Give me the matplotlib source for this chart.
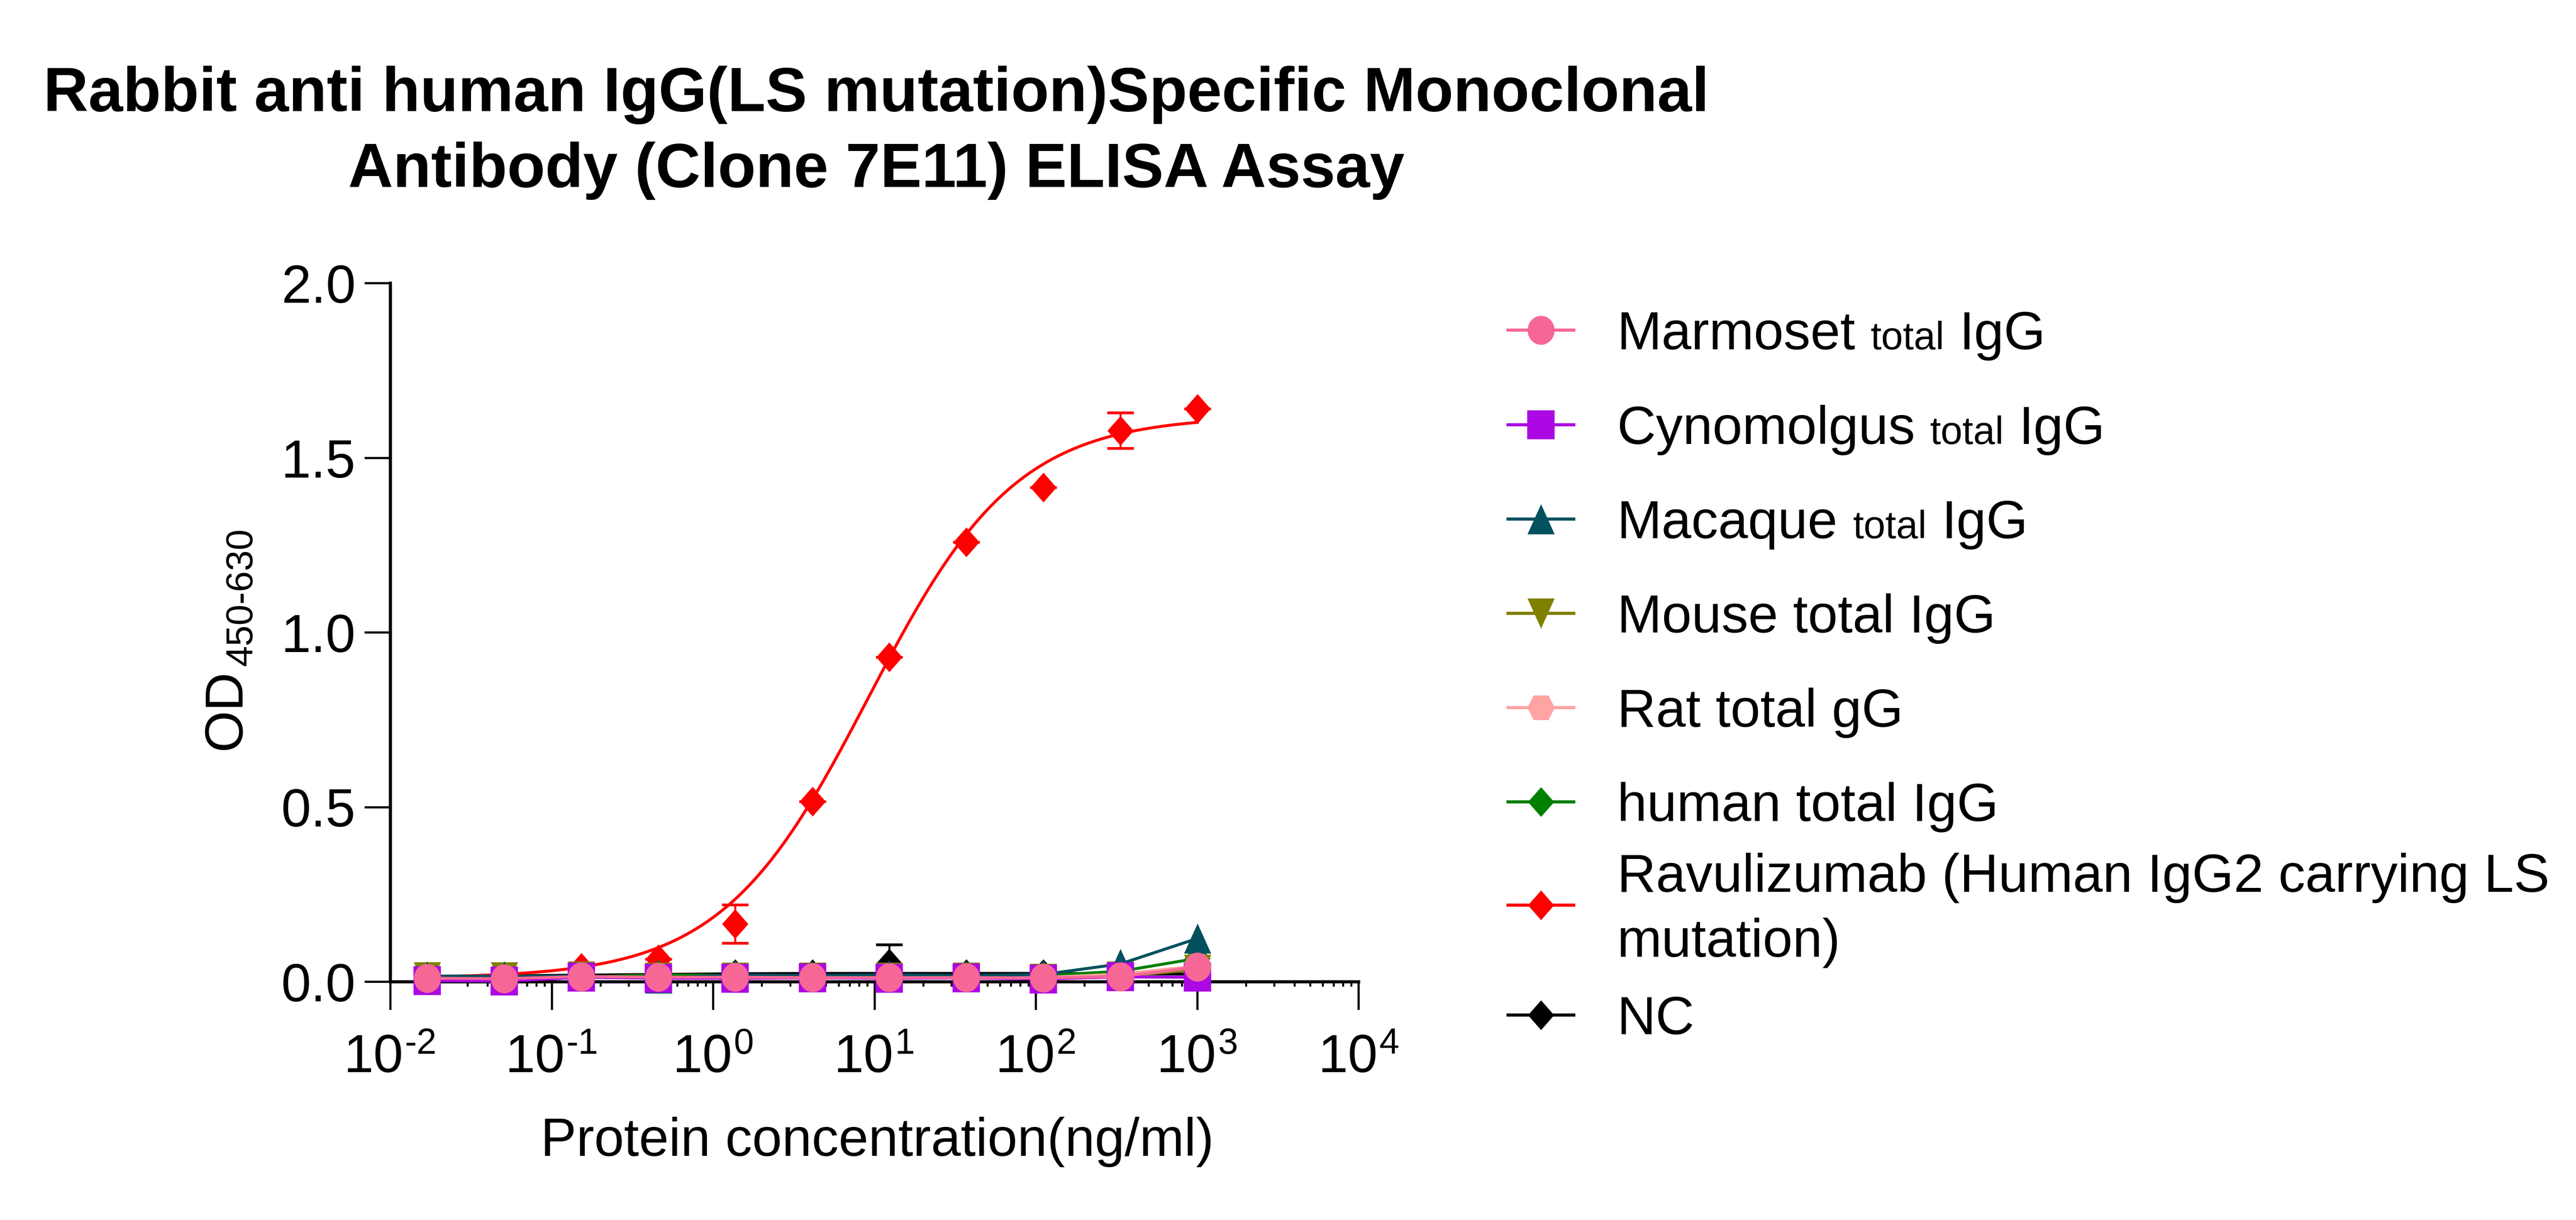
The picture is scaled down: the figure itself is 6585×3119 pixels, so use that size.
import numpy as np
import matplotlib
matplotlib.use("Agg")
import matplotlib.pyplot as plt
from matplotlib.path import Path
from matplotlib.lines import Line2D
from matplotlib.ticker import FixedLocator, FixedFormatter, LogLocator, NullFormatter
from matplotlib.transforms import blended_transform_factory, offset_copy

# ---------------- data ----------------
conc = [0.0169, 0.0508, 0.152, 0.457, 1.37, 4.12, 12.3, 37.0, 111.0, 333.0, 1000.0]

marmoset = [0.010, 0.009, 0.015, 0.013, 0.013, 0.012, 0.012, 0.012, 0.011, 0.015, 0.042]
cynomolgus = [0.003, 0.002, 0.013, 0.010, 0.010, 0.011, 0.010, 0.011, 0.008, 0.014, 0.013]
macaque = [0.016, 0.016, 0.016, 0.010, 0.020, 0.018, 0.020, 0.018, 0.021, 0.051, 0.124]
mouse = [0.013, 0.013, 0.016, 0.012, 0.012, 0.012, 0.012, 0.012, 0.009, 0.016, 0.035]
rat = [0.012, 0.012, 0.014, 0.012, 0.012, 0.012, 0.012, 0.012, 0.012, 0.022, 0.045]
human = [0.016, 0.016, 0.013, 0.020, 0.018, 0.016, 0.018, 0.018, 0.018, 0.030, 0.067]
ravulizumab = [0.012, 0.012, 0.040, 0.065, 0.166, 0.516, 0.930, 1.259, 1.416, 1.578, 1.641]
ravulizumab_sd = [0, 0, 0, 0, 0.055, 0, 0, 0, 0, 0.051, 0]
nc = [0.015, 0.015, 0.016, 0.020, 0.022, 0.022, 0.053, 0.022, 0.022, 0.021, 0.020]
nc_sd = [0, 0, 0, 0, 0, 0, 0.053, 0, 0, 0, 0]
nc_fit = [0.016, 0.017, 0.019, 0.021, 0.023, 0.024, 0.024, 0.024, 0.024, 0.023, 0.022]

# 4PL fit of the Ravulizumab curve (parameters)
fit_bottom, fit_top, fit_ec50, fit_hill = 0.010, 1.620, 9.2, 0.95

labels = ["Marmoset total IgG", "Cynomolgus total IgG", "Macaque total IgG",
          "Mouse total IgG", "Rat total gG", "human total IgG",
          "Ravulizumab (Human IgG2 carrying LS mutation)", "NC"]
yticks = [0.0, 0.5, 1.0, 1.5, 2.0]
ytick_labels = ["0.0", "0.5", "1.0", "1.5", "2.0"]
xticks = [1e-2, 1e-1, 1e0, 1e1, 1e2, 1e3, 1e4]
xtick_exponents = ["-2", "-1", "0", "1", "2", "3", "4"]
title_lines = ["Rabbit anti human IgG(LS mutation)Specific Monoclonal",
               "Antibody (Clone 7E11) ELISA Assay"]
xlabel = "Protein concentration(ng/ml)"

# ---------------- style ----------------
W, H = 6585, 3119
DPI = 72
plt.rcParams["font.family"] = ["Liberation Sans", "DejaVu Sans"]

FS = 137       # main text size (px == pt at 72 dpi)
FS_SMALL = 100
FS_SUP = 92
FS_TITLE = 159

col = {
    "marmoset": "#F76796", "cyno": "#AC08E3", "macaque": "#03505F", "mouse": "#808000",
    "rat": "#FFA3A3", "human": "#008000", "red": "#FF0000", "nc": "#000000",
}


def ellipse_path(w, h):
    t = np.linspace(0, 2 * np.pi, 73)
    v = np.c_[w / 2 * np.cos(t), h / 2 * np.sin(t)]
    return Path(v, closed=True)


def poly_path(pts):
    v = np.array(pts + [pts[0]], dtype=float)
    return Path(v, closed=True)


M_CIRCLE = ellipse_path(0.93, 1.0)
M_SQUARE = poly_path([(-0.47, -0.5), (0.47, -0.5), (0.47, 0.5), (-0.47, 0.5)])
M_TRI_UP = poly_path([(-0.45, -0.5), (0.45, -0.5), (0.0, 0.5)])
M_TRI_DN = poly_path([(-0.45, 0.5), (0.45, 0.5), (0.0, -0.5)])
M_HEX = poly_path([(-0.5, 0.0), (-0.27, -0.45), (0.27, -0.45), (0.5, 0.0), (0.27, 0.45), (-0.27, 0.45)])
M_DIAM = poly_path([(-0.44, 0.0), (0.0, -0.5), (0.44, 0.0), (0.0, 0.5)])

LW = 7.5

fig = plt.figure(figsize=(W / DPI, H / DPI), dpi=DPI)
fig.patch.set_facecolor("white")


def fx(px):
    return px / W


def fy(py):
    return 1 - py / H


ax_left, ax_right, ax_top, ax_bot = 998, 3473, 724, 2510
ax = fig.add_axes([fx(ax_left), fy(ax_bot), (ax_right - ax_left) / W, (ax_bot - ax_top) / H])
ax.set_xscale("log")
ax.set_xlim(1e-2, 1e4)
ax.set_ylim(0, 2.0)

# NC
ax.plot(conc, nc_fit, color=col["nc"], lw=LW, zorder=3, clip_on=False)
ax.errorbar(conc, nc, yerr=nc_sd, fmt="none", ecolor=col["nc"], elinewidth=5, capsize=34,
            capthick=7, zorder=3, clip_on=False)
ax.plot(conc, nc, ls="none", marker=M_DIAM, ms=76, mew=0, color=col["nc"], zorder=3, clip_on=False)

# Ravulizumab with its fitted curve
xs = np.logspace(np.log10(conc[0]), np.log10(conc[-1]), 400)
ys = fit_bottom + (fit_top - fit_bottom) / (1 + (fit_ec50 / xs) ** fit_hill)
ax.plot(xs, ys, color=col["red"], lw=LW, zorder=4, clip_on=False)
ax.errorbar(conc, ravulizumab, yerr=ravulizumab_sd, fmt="none", ecolor=col["red"], elinewidth=5,
            capsize=34, capthick=7, zorder=4, clip_on=False)
ax.plot(conc, ravulizumab, ls="none", marker=M_DIAM, ms=76, mew=0, color=col["red"], zorder=4,
        clip_on=False)

small = [
    (human, col["human"], M_DIAM, 76, 5),
    (rat, col["rat"], M_HEX, 70, 6),
    (mouse, col["mouse"], M_TRI_DN, 77, 7),
    (macaque, col["macaque"], M_TRI_UP, 77, 8),
    (cynomolgus, col["cyno"], M_SQUARE, 74, 9),
    (marmoset, col["marmoset"], M_CIRCLE, 74, 10),
]
for vals, c, m, ms, z in small:
    ax.plot(conc, vals, color=c, lw=LW, marker=m, ms=ms, mew=0, zorder=z, clip_on=False)

# axes styling
for s in ["top", "right"]:
    ax.spines[s].set_visible(False)
for s in ["left", "bottom"]:
    ax.spines[s].set_linewidth(8)
    ax.spines[s].set_capstyle("projecting")

ax.yaxis.set_major_locator(FixedLocator(yticks))
ax.yaxis.set_major_formatter(FixedFormatter(ytick_labels))
ax.xaxis.set_major_locator(FixedLocator(xticks))
ax.xaxis.set_major_formatter(NullFormatter())
ax.xaxis.set_minor_locator(LogLocator(base=10, subs=np.arange(2, 10), numticks=20))
ax.xaxis.set_minor_formatter(NullFormatter())
ax.tick_params(axis="y", which="major", length=66, width=5.5, pad=23, labelsize=FS, direction="out")
ax.tick_params(axis="x", which="major", length=72, width=5.5, direction="out")
ax.tick_params(axis="x", which="minor", length=12, width=5, direction="out")
ax.tick_params(axis="y", which="minor", length=0)

renderer = fig.canvas.get_renderer()


def text_width(s, size, weight="normal"):
    t = fig.text(0, 0, s, fontsize=size, fontweight=weight)
    w = t.get_window_extent(renderer).width
    t.remove()
    return w


# x tick labels: "10" with a raised exponent, centred on each major tick
blend = blended_transform_factory(ax.transData, fig.transFigure)
w10 = text_width("10", FS)
for xt, ex in zip(xticks, xtick_exponents):
    we = text_width(ex, FS_SUP)
    gap = 4
    total = w10 + gap + we
    t0 = offset_copy(blend, fig=fig, x=-total / 2, y=0, units="dots")
    fig.text(xt, fy(2741), "10", transform=t0, ha="left", va="baseline", fontsize=FS)
    t1 = offset_copy(blend, fig=fig, x=-total / 2 + w10 + gap, y=0, units="dots")
    fig.text(xt, fy(2694), ex, transform=t1, ha="left", va="baseline", fontsize=FS_SUP)

# titles and labels
fig.text(fx(2240), fy(284), title_lines[0], ha="center", va="baseline", fontsize=FS_TITLE,
         fontweight="bold")
fig.text(fx(2240), fy(478), title_lines[1], ha="center", va="baseline", fontsize=FS_TITLE,
         fontweight="bold")
fig.text(fx(2243), fy(2955), xlabel, ha="center", va="baseline", fontsize=FS)

# y label: OD with subscript 450-630 (rotated)
fig.text(fx(614), fy(1917), "OD", rotation=90, rotation_mode="anchor", ha="left",
         va="baseline", fontsize=FS)
od_len = text_width("OD", FS)
fig.text(fx(644), fy(1917 - od_len - 10), "450-630", rotation=90, rotation_mode="anchor",
         ha="left", va="baseline", fontsize=FS_SUP + 4)

# legend (manual)
leg_y = [844, 1086, 1327, 1568, 1809, 2050, 2314, 2595]
leg_style = [
    (col["marmoset"], M_CIRCLE, 74),
    (col["cyno"], M_SQUARE, 74),
    (col["macaque"], M_TRI_UP, 77),
    (col["mouse"], M_TRI_DN, 77),
    (col["rat"], M_HEX, 70),
    (col["human"], M_DIAM, 76),
    (col["red"], M_DIAM, 76),
    (col["nc"], M_DIAM, 76),
]
for (c, m, ms), y in zip(leg_style, leg_y):
    fig.add_artist(Line2D([fx(3851), fx(4027)], [fy(y), fy(y)], transform=fig.transFigure,
                          color=c, lw=8, solid_capstyle="butt"))
    fig.add_artist(Line2D([fx(3939)], [fy(y)], transform=fig.transFigure, ls="none",
                          marker=m, ms=ms, mew=0, color=c))

TX = 4134
space_w = text_width("M M", FS) - text_width("MM", FS)
cap_off = 0.36 * FS


def seg_text(y, segs):
    x = TX
    for s, size in segs:
        t = fig.text(fx(x), fy(y + cap_off), s, ha="left", va="baseline", fontsize=size)
        x += t.get_window_extent(renderer).width + space_w


seg_text(leg_y[0], [("Marmoset", FS), ("total", FS_SMALL), ("IgG", FS)])
seg_text(leg_y[1], [("Cynomolgus", FS), ("total", FS_SMALL), ("IgG", FS)])
seg_text(leg_y[2], [("Macaque", FS), ("total", FS_SMALL), ("IgG", FS)])
fig.text(fx(TX), fy(leg_y[3] + cap_off), labels[3], ha="left", va="baseline", fontsize=FS)
fig.text(fx(TX), fy(leg_y[4] + cap_off), labels[4], ha="left", va="baseline", fontsize=FS)
fig.text(fx(TX), fy(leg_y[5] + cap_off), labels[5], ha="left", va="baseline", fontsize=FS)
fig.text(fx(TX), fy(2231 + cap_off), "Ravulizumab (Human IgG2 carrying LS", ha="left",
         va="baseline", fontsize=FS)
fig.text(fx(TX), fy(2397 + cap_off), "mutation)", ha="left", va="baseline", fontsize=FS)
fig.text(fx(TX), fy(leg_y[7] + cap_off), labels[7], ha="left", va="baseline", fontsize=FS)

fig.savefig("out.png", dpi=DPI, facecolor="white")
